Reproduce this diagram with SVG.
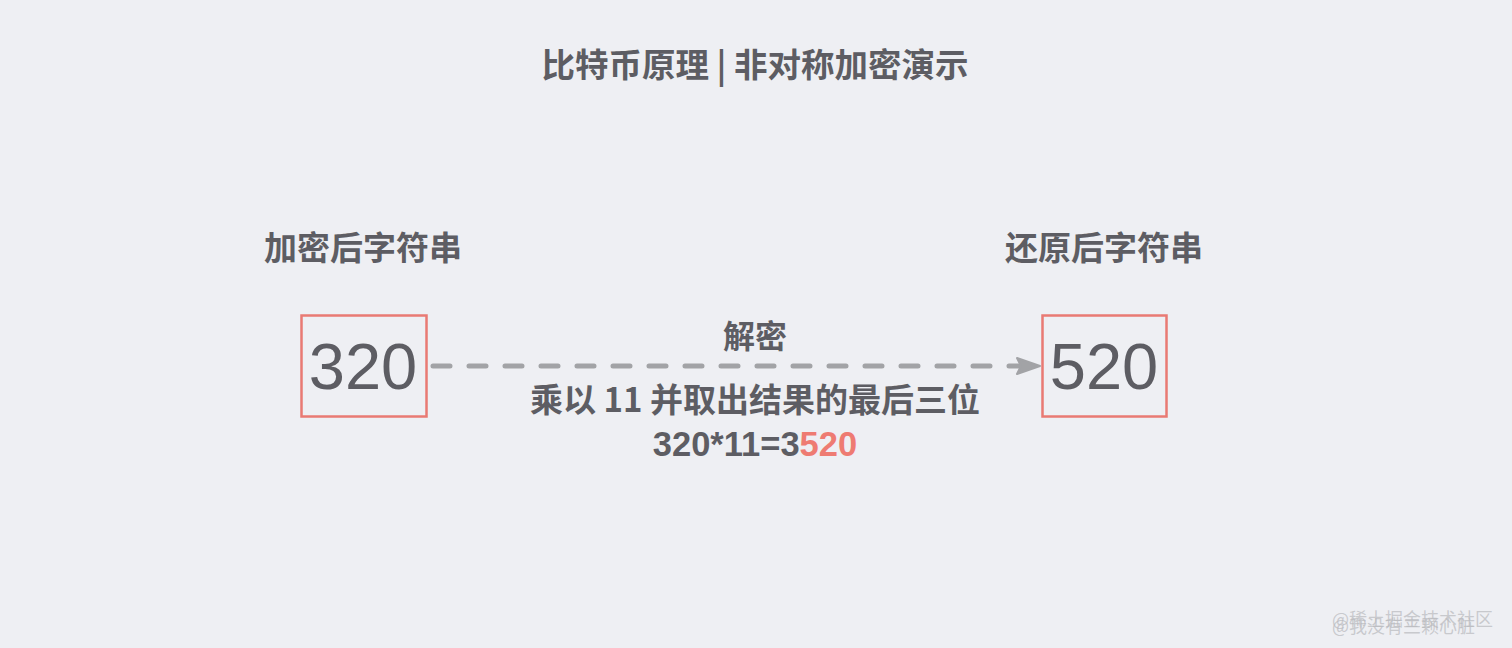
<svg xmlns="http://www.w3.org/2000/svg" width="1512" height="648" viewBox="0 0 1512 648">
<style>
  .t { font-family: "Noto Sans CJK SC", "Liberation Sans", sans-serif; fill: #5d5d63; font-weight: bold; text-anchor: middle; }
  .num { font-family: "Liberation Sans", "Noto Sans", sans-serif; fill: #5d5d63; text-anchor: middle; }
  .box { fill: none; stroke: #e97a73; stroke-width: 2.5; }
  .wm { font-family: "Noto Sans CJK SC", sans-serif; font-size: 18px; fill: #b8b9bd; fill-opacity: 0.7; }
</style>
<rect width="1512" height="648" fill="#eeeff3"/>
<text class="t" x="755" y="77" font-size="33.5">比特币原理 | 非对称加密演示</text>
<g id="left-node">
  <text class="t" x="363" y="260" font-size="33">加密后字符串</text>
  <rect class="box" x="301.5" y="315.5" width="125" height="101"/>
  <text class="num" x="363" y="389" font-size="65">320</text>
</g>
<g id="right-node">
  <text class="t" x="1104" y="260" font-size="33">还原后字符串</text>
  <rect class="box" x="1042.5" y="315.5" width="124" height="101"/>
  <text class="num" x="1104" y="389" font-size="65">520</text>
</g>
<g id="connectors">
  <line x1="433" y1="366" x2="1022" y2="366" stroke="#a2a3a6" stroke-width="5" stroke-linecap="round" stroke-dasharray="17 19"/>
  <path d="M1040,366 L1017,358 L1021,366 L1017,374 Z" fill="#a2a3a6" stroke="#a2a3a6" stroke-width="2" stroke-linejoin="round"/>
  <text class="t" x="755" y="348" font-size="32">解密</text>
  <text class="t" x="755" y="412" font-size="33">乘以 11 并取出结果的最后三位</text>
  <text class="num" x="755" y="456" font-size="34.5" font-weight="bold">320*11=3<tspan fill="#ee7b72">520</tspan></text>
</g>
<text class="wm" x="1332" y="626">@稀土掘金技术社区</text>
<text class="wm" x="1332" y="633">@我没有三颗心脏</text>
</svg>
